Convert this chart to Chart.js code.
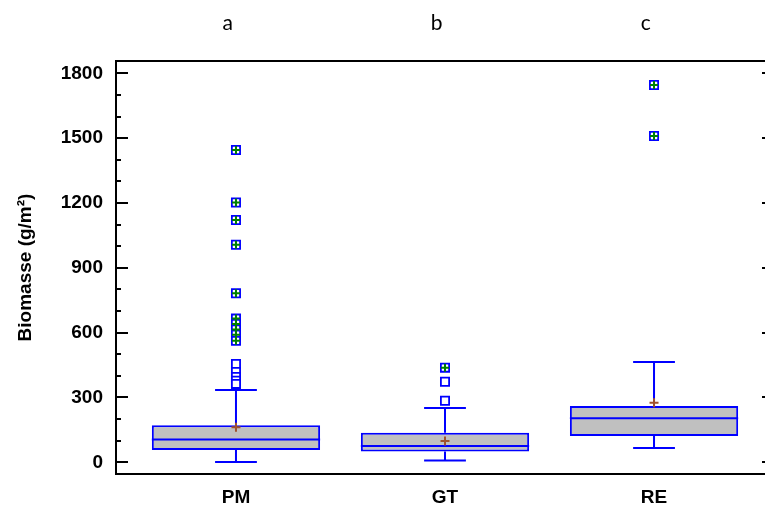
<!DOCTYPE html>
<html lang="de">
<head>
<meta charset="UTF-8">
<title>Biomasse</title>
<script src="https://cdn.jsdelivr.net/npm/chart.js"></script>
<style>
  html, body { margin: 0; padding: 0; overflow: hidden; background: #fff; }
  #wrap { width: 790px; height: 506px; }
</style>
</head>
<body>
<div id="wrap"><canvas id="boxChart" width="790" height="506"></canvas></div>
<script>
// groups and the letters printed above them
const groups = ['PM', 'GT', 'RE'];
const letters = ['a', 'b', 'c'];

// box statistics per group (g/m²)
const q1 = [57, 50, 122];
const q3 = [171, 137, 261];
const medians = [106, 75, 204];
const whiskerLow = [1, 9, 66];
const whiskerHigh = [335, 251, 464];
const means = [162, 99, 276];

// outside points (plain squares) and far outside points (squares with green plus)
const outsidePoints = [[455, 418, 395, 378, 363], [373, 285], []];
const farPoints = [[1445, 1202, 1121, 1007, 782, 665, 640, 615, 590, 562], [438], [1746, 1510]];

const yTicks = [0, 300, 600, 900, 1200, 1500, 1800];

const boxData = groups.map((g, i) => ({ x: i + 1, y: [q1[i], q3[i]] }));
const meanData = groups.map((g, i) => ({ x: i + 1, y: means[i] }));
const squareData = [];
const farData = [];
groups.forEach((g, i) => {
    outsidePoints[i].concat(farPoints[i]).forEach(v => squareData.push({ x: i + 1, y: v }));
    farPoints[i].forEach(v => farData.push({ x: i + 1, y: v }));
});

const BLUE = '#0000ff';
const capWidth = 0.2;

// medians and whiskers, drawn right after the boxes
const boxParts = {
    id: 'boxParts',
    afterDatasetDraw(chart, args) {
        if (args.index !== 0) return;
        const { ctx, scales: { x, y } } = chart;
        const bars = chart.getDatasetMeta(0).data;
        ctx.save();
        ctx.strokeStyle = BLUE;
        ctx.lineWidth = 2;
        groups.forEach((g, i) => {
            const cx = x.getPixelForValue(i + 1);
            const half = bars[i].width / 2;
            const cap = x.getPixelForValue(i + 1 + capWidth / 2) - cx;
            ctx.beginPath();
            ctx.moveTo(cx - half, y.getPixelForValue(medians[i]));
            ctx.lineTo(cx + half, y.getPixelForValue(medians[i]));
            ctx.moveTo(cx, y.getPixelForValue(q3[i]));
            ctx.lineTo(cx, y.getPixelForValue(whiskerHigh[i]));
            ctx.moveTo(cx - cap, y.getPixelForValue(whiskerHigh[i]));
            ctx.lineTo(cx + cap, y.getPixelForValue(whiskerHigh[i]));
            ctx.moveTo(cx, y.getPixelForValue(q1[i]));
            ctx.lineTo(cx, y.getPixelForValue(whiskerLow[i]));
            ctx.moveTo(cx - cap, y.getPixelForValue(whiskerLow[i]));
            ctx.lineTo(cx + cap, y.getPixelForValue(whiskerLow[i]));
            ctx.stroke();
        });
        ctx.restore();
    }
};

// inward tick marks on the left and right frame
const frameTicks = {
    id: 'frameTicks',
    afterDraw(chart) {
        const { ctx, chartArea: a, scales: { y } } = chart;
        ctx.save();
        ctx.strokeStyle = '#000';
        ctx.lineWidth = 2;
        ctx.beginPath();
        for (let v = 0; v <= 1800; v += 100) {
            const py = Math.round(y.getPixelForValue(v));
            const major = v % 300 === 0;
            ctx.moveTo(a.left, py);
            ctx.lineTo(a.left + (major ? 12 : 5), py);
            if (major) {
                ctx.moveTo(a.right, py);
                ctx.lineTo(a.right - 12, py);
            }
        }
        ctx.moveTo(a.right, a.top);
        ctx.lineTo(a.right, a.bottom);
        ctx.stroke();
        ctx.restore();
    }
};

const tickFont = { family: "'Liberation Sans', Arial, sans-serif", size: 19, weight: 'bold' };

new Chart(document.getElementById('boxChart').getContext('2d'), {
    type: 'bar',
    data: {
        datasets: [
            {
                type: 'bar',
                data: boxData,
                backgroundColor: '#c0c0c0',
                borderColor: BLUE,
                borderWidth: 2,
                borderSkipped: false,
                barPercentage: 0.805,
                categoryPercentage: 1,
                order: 5
            },
            {
                type: 'scatter',
                data: squareData,
                pointStyle: 'rect',
                pointRadius: 5.8,
                backgroundColor: '#ffffff',
                borderColor: BLUE,
                borderWidth: 1.8,
                order: 3
            },
            {
                type: 'scatter',
                data: farData,
                pointStyle: 'cross',
                pointRadius: 4,
                borderColor: '#008000',
                borderWidth: 2,
                order: 2
            },
            {
                type: 'scatter',
                data: meanData,
                pointStyle: 'cross',
                pointRadius: 4.5,
                borderColor: '#a0522d',
                borderWidth: 2,
                order: 1
            }
        ]
    },
    options: {
        responsive: false,
        animation: false,
        devicePixelRatio: 1,
        layout: { padding: { left: 0, right: 16, top: 0, bottom: 0 } },
        plugins: { legend: { display: false }, tooltip: { enabled: false } },
        scales: {
            x: {
                type: 'linear',
                position: 'bottom',
                offset: false,
                min: 0.426,
                max: 3.574,
                afterBuildTicks: s => { s.ticks = groups.map((g, i) => ({ value: i + 1 })); },
                afterFit: s => { s.height = 32; },
                ticks: {
                    callback: v => groups[v - 1],
                    font: tickFont,
                    color: '#000',
                    padding: 12,
                    autoSkip: false,
                    maxRotation: 0
                },
                grid: { display: false, drawTicks: false, offset: false },
                border: { display: true, color: '#000', width: 2 }
            },
            x2: {
                type: 'linear',
                axis: 'x',
                position: 'top',
                offset: false,
                min: 0.466,
                max: 3.614,
                afterBuildTicks: s => { s.ticks = letters.map((l, i) => ({ value: i + 1 })); },
                afterFit: s => { s.height = 61; },
                ticks: {
                    callback: v => letters[v - 1],
                    font: { family: "Lato, 'Open Sans', sans-serif", size: 21 },
                    color: '#000',
                    padding: 25,
                    autoSkip: false,
                    maxRotation: 0
                },
                grid: { display: false, drawTicks: false, offset: false },
                border: { display: true, color: '#000', width: 2 }
            },
            y: {
                type: 'linear',
                min: -54,
                max: 1857,
                afterBuildTicks: s => { s.ticks = yTicks.map(v => ({ value: v })); },
                afterFit: s => { s.width = 116; },
                ticks: { font: tickFont, color: '#000', padding: 13, callback: v => String(v) },
                grid: { display: false, drawTicks: false },
                border: { display: true, color: '#000', width: 2 },
                title: {
                    display: true,
                    text: 'Biomasse (g/m²)',
                    font: { family: "'Liberation Sans', Arial, sans-serif", size: 19, weight: 'bold' },
                    color: '#000',
                    padding: { top: 14, bottom: 0 }
                }
            }
        }
    },
    plugins: [boxParts, frameTicks]
});
</script>
</body>
</html>
